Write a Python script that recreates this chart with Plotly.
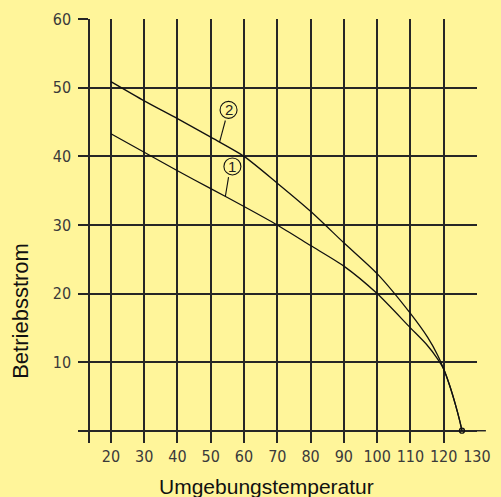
import plotly.graph_objects as go

# Data
temp1 = [20, 30, 40, 50, 60, 70, 80, 90, 100, 110, 115, 118.0, 120.0, 121.8, 123.6, 124.8, 125.5]
curr1 = [43.3, 40.6, 37.9, 35.3, 32.7, 30.0, 27.0, 24.0, 20.0, 15.0, 12.5, 10.6, 9.0, 6.6, 3.7, 1.5, 0.0]
temp2 = [20, 30, 40, 50, 60, 70, 80, 90, 100, 110, 115.2, 118.2, 120.0, 121.8, 123.6, 124.8, 125.5]
curr2 = [50.9, 48.1, 45.5, 42.8, 40.0, 36.1, 32.0, 27.4, 22.9, 17.1, 13.6, 11.0, 9.0, 6.6, 3.7, 1.5, 0.0]
end_point = [125.5, 0.0]

x_ticks = [20, 30, 40, 50, 60, 70, 80, 90, 100, 110, 120, 130]
y_ticks = [0, 10, 20, 30, 40, 50, 60]
y_ticktext = ["", "10", "20", "30", "40", "50", "60"]

BG = "#FFF59A"
GRID = "#262626"
TICKFONT = dict(family="Liberation Sans Narrow, DejaVu Sans Condensed, sans-serif", size=16, color="#3a3a3a")

fig = go.Figure()
fig.add_trace(go.Scatter(x=temp1, y=curr1, mode="lines",
                         line=dict(color="#111111", width=1.3, shape="spline", smoothing=0.7),
                         showlegend=False, hoverinfo="skip"))
fig.add_trace(go.Scatter(x=temp2, y=curr2, mode="lines",
                         line=dict(color="#111111", width=1.3, shape="spline", smoothing=0.7),
                         showlegend=False, hoverinfo="skip"))
fig.add_trace(go.Scatter(x=[end_point[0]], y=[end_point[1]], mode="markers",
                         marker=dict(symbol="circle-open", size=5, color="#111111", line=dict(width=1.3)),
                         showlegend=False, hoverinfo="skip"))

# circled labels with leader lines
labels = [
    dict(text="2", cx=55.35, cy=46.78, l0=(54.39, 45.23), l1=(52.65, 42.07)),
    dict(text="1", cx=56.51, cy=38.53, l0=(55.35, 36.97), l1=(54.39, 34.16)),
]
shapes = []
annotations = []
for lb in labels:
    shapes.append(dict(type="circle", xref="x", yref="y", xsizemode="pixel", ysizemode="pixel",
                       xanchor=lb["cx"], yanchor=lb["cy"], x0=-8.5, x1=8.5, y0=-8.5, y1=8.5,
                       line=dict(color="#111111", width=1.1)))
    shapes.append(dict(type="line", xref="x", yref="y", x0=lb["l0"][0], y0=lb["l0"][1],
                       x1=lb["l1"][0], y1=lb["l1"][1], line=dict(color="#111111", width=1.1)))
    annotations.append(dict(x=lb["cx"], y=lb["cy"], xref="x", yref="y", text=lb["text"],
                            showarrow=False, font=dict(family="Liberation Sans Narrow, sans-serif",
                                                       size=15, color="#222222")))

# extension of the zero axis beyond 130
shapes.append(dict(type="line", xref="paper", yref="y", x0=1.0, x1=1.023, y0=0, y1=0,
                   line=dict(color=GRID, width=1.5)))

annotations.append(dict(text="Umgebungstemperatur", xref="paper", yref="paper",
                        x=(273 - 90) / 401, y=-(487 - 443) / 425, showarrow=False,
                        xanchor="center", yanchor="middle",
                        font=dict(family="Liberation Sans, Arial, sans-serif", size=21, color="#111111")))
annotations.append(dict(text="Betriebsstrom", xref="paper", yref="paper", textangle=-90,
                        x=(18 - 90) / 401, y=(443 - 311) / 425, showarrow=False,
                        xanchor="center", yanchor="middle",
                        font=dict(family="Liberation Sans, Arial, sans-serif", size=22, color="#111111")))

fig.update_layout(
    width=501, height=497,
    margin=dict(l=90, r=10, t=18, b=54),
    paper_bgcolor=BG, plot_bgcolor=BG,
    shapes=shapes, annotations=annotations,
    xaxis=dict(range=[13.71, 130.02], tickvals=x_ticks, ticktext=[str(v) for v in x_ticks],
               showgrid=True, gridcolor=GRID, gridwidth=1.5, zeroline=False,
               showline=False, ticks="", tickfont=TICKFONT, ticklabelstandoff=2,
               ticklabeloverflow="allow"),
    yaxis=dict(range=[-1.79, 60.03], tickvals=y_ticks, ticktext=y_ticktext,
               showgrid=True, gridcolor=GRID, gridwidth=1.5, zeroline=False,
               showline=True, linecolor=GRID, linewidth=1.5,
               ticks="outside", ticklen=10, tickcolor=GRID, tickwidth=1.5,
               tickfont=TICKFONT, ticklabelstandoff=4),
)

fig.write_html("out.html", config={"displayModeBar": False},
               post_script="document.body.style.margin='0';document.body.style.padding='0';"
                           "document.body.style.overflow='hidden';")
